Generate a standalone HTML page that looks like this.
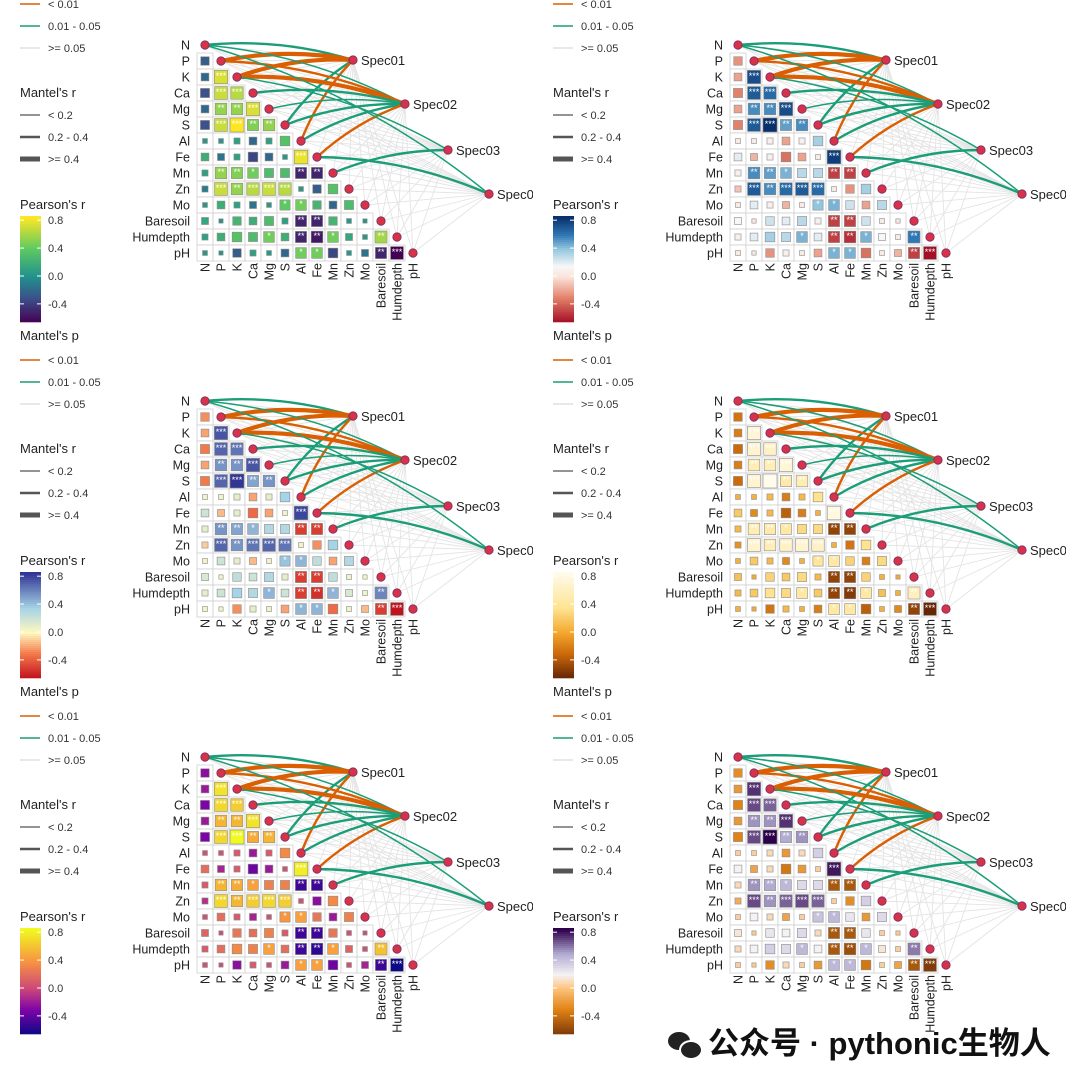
<!DOCTYPE html>
<html><head><meta charset="utf-8">
<style>
html,body{margin:0;padding:0;background:#fff;}
#root{position:relative;width:1080px;height:1080px;overflow:hidden;font-family:"Liberation Sans","Noto Sans CJK SC",sans-serif;}
svg text{font-family:"Liberation Sans","Noto Sans CJK SC",sans-serif;}
#wm{position:absolute;left:668px;top:1018px;font-size:31px;font-weight:bold;color:#111;white-space:nowrap;}
</style></head>
<body>
<div id="root">
<svg id="chart" width="1080" height="1080"></svg>
<div id="wm"><span style="display:inline-block;width:32px;height:26px;vertical-align:-4px;margin-right:8px;position:relative"><span style="position:absolute;left:0;top:0;width:22px;height:18px;border-radius:50%;background:#222"></span><span style="position:absolute;left:11px;top:8px;width:20px;height:16px;border-radius:50%;background:#222;border:2px solid #fff"></span></span>公众号 · pythonic生物人</div>
</div>
<script>
const vars = ["N","P","K","Ca","Mg","S","Al","Fe","Mn","Zn","Mo","Baresoil","Humdepth","pH"];
const rowP = [-0.25];
const rowK = [-0.2,0.75];
const rowCa = [-0.3,0.7,0.65];
const rowMg = [-0.2,0.55,0.55,0.75];
const rowS = [-0.3,0.7,0.85,0.5,0.55];
const rowAl = [0.05,0.05,0.1,-0.2,0.1,0.35];
const rowFe = [0.2,-0.15,0.1,-0.35,-0.2,0.05,0.8];
const rowMn = [0.1,0.55,0.5,0.45,0.3,0.3,-0.5,-0.5];
const rowZn = [-0.1,0.7,0.55,0.65,0.7,0.65,0.05,-0.25,0.35];
const rowMo = [0.05,0.2,0.1,-0.15,0.05,0.4,0.45,0.25,-0.2,0.3];
const rowBaresoil = [0.15,0.03,0.25,0.2,0.3,0.1,-0.5,-0.5,0.25,0.05,0.03];
const rowHumdepth = [0.1,0.2,0.35,0.3,0.45,0.2,-0.5,-0.55,0.45,0.15,0.05,0.6];
const rowPH = [0.05,0.03,-0.25,0.1,0.05,-0.2,0.45,0.45,-0.35,0.05,-0.15,-0.5,-0.7];
const corrRows = [[],rowP,rowK,rowCa,rowMg,rowS,rowAl,rowFe,rowMn,rowZn,rowMo,rowBaresoil,rowHumdepth,rowPH];
const specs = ["Spec01","Spec02","Spec03","Spec04"];
const linkSpec = [0,0,0,0,0,1,1,1,1,1,1,1,1,2,2,3,3];
const linkEnv  = ["N","P","K","S","Al","N","P","K","Ca","Mg","S","Al","Fe","K","Mn","N","Fe"];
const linkP    = ["g","o","o","g","o","g","o","o","g","g","g","g","o","g","g","g","g"];
const linkR    = [2,4,4,2,2,1,2,4,2,1,2,2,2,1,2,1,2];
const legendTicks = [0.8,0.4,0.0,-0.4];
const scales = [
 [[-0.65,"#440154"],[-0.3,"#3b528b"],[0,"#21918c"],[0.4,"#5ec962"],[0.85,"#fde725"]],
 [[-0.65,"#a50f26"],[-0.3,"#e3826a"],[0,"#fbe3da"],[0.15,"#f7f7f7"],[0.4,"#92c5de"],[0.6,"#2f78b5"],[0.85,"#08306b"]],
 [[-0.65,"#c2121e"],[-0.3,"#f4794a"],[0,"#fff8c0"],[0.35,"#a6d3e6"],[0.85,"#313695"]],
 [[-0.65,"#662506"],[-0.3,"#cc6a0a"],[0,"#f3a72d"],[0.35,"#fee391"],[0.85,"#fffbea"]],
 [[-0.65,"#0d0887"],[-0.3,"#7e03a8"],[0,"#cc4778"],[0.4,"#f89540"],[0.85,"#f0f921"]],
 [[-0.65,"#7f3b08"],[-0.3,"#e08214"],[0,"#fdc27a"],[0.2,"#f5f2f4"],[0.5,"#b2abd2"],[0.85,"#2d004b"]]
];
const NS="http://www.w3.org/2000/svg";
function mk(tag,attrs,parent){const e=document.createElementNS(NS,tag);for(const k in attrs)e.setAttribute(k,attrs[k]);if(parent)parent.appendChild(e);return e;}
function hex(h){return [1,3,5].map(i=>parseInt(h.substr(i,2),16));}
function colorFor(sc,v){
 if(v<=sc[0][0])return sc[0][1];
 for(let i=1;i<sc.length;i++){if(v<=sc[i][0]){const a=sc[i-1],b=sc[i];const t=(v-a[0])/(b[0]-a[0]);const ca=hex(a[1]),cb=hex(b[1]);return "rgb("+ca.map((c,k)=>Math.round(c+(cb[k]-c)*t)).join(",")+")";}}
 return sc[sc.length-1][1];
}
const svg=document.getElementById("chart");
const X0=205,Y0=45,S=16;
const specPos=[[353,60],[405,104],[448,150],[489,194]];
const xPos=j=>X0+S*j, yPos=i=>Y0+S*i;
const barTop=216,barBot=322,vTop=0.86,vBot=-0.66;
const barY=v=>barTop+(vTop-v)/(vTop-vBot)*(barBot-barTop);
function stars(v){const a=Math.abs(v);return a>=0.65?"***":a>=0.5?"**":a>=0.4?"*":"";}
for(let p=0;p<6;p++){
 const col=p%2,row=Math.floor(p/2);
 const ox=col*533,oy=row*356;
 const sc=scales[p];
 const ps=mk("svg",{x:ox,y:oy-40,width:533,height:396,overflow:"hidden"},svg);
 
 
 const g=mk("g",{transform:"translate(0,40)"},ps);
 const lg=mk("g",{},g);
 
 
 mk("text",{x:20,y:-16,"font-size":13,fill:"#222"},lg).textContent="Mantel's p";
 const pl=[["#d95f02","< 0.01"],["#1b9e77","0.01 - 0.05"],["#e0e0e0",">= 0.05"]];
 pl.forEach((d,k)=>{const y=4+22*k;
  const it=mk("g",{},lg);
  
  
  mk("line",{x1:20,x2:40,y1:y,y2:y,stroke:d[0],"stroke-width":1.5},it);
  mk("text",{x:48,y:y+4,"font-size":11,fill:"#333"},it).textContent=d[1];});
 mk("text",{x:20,y:97,"font-size":13,fill:"#222"},lg).textContent="Mantel's r";
 [["< 0.2",1.2],["0.2 - 0.4",2.4],[">= 0.4",5]].forEach((d,k)=>{const y=115+22*k;
  const it=mk("g",{},lg);
  
  
  mk("line",{x1:20,x2:40,y1:y,y2:y,stroke:"#555","stroke-width":d[1]},it);
  mk("text",{x:48,y:y+4,"font-size":11,fill:"#333"},it).textContent=d[0];});
 mk("text",{x:20,y:209,"font-size":13,fill:"#222"},lg).textContent="Pearson's r";
 for(let y=barTop;y<barBot;y+=2){const v=vTop-(y-barTop)/(barBot-barTop)*(vTop-vBot);
  mk("rect",{x:20,y:y,width:21,height:2.3,fill:colorFor(sc,v)},lg);}
 legendTicks.forEach(t=>{const y=barY(t);
  mk("line",{x1:20,x2:24,y1:y,y2:y,stroke:"#fff"},lg);mk("line",{x1:37,x2:41,y1:y,y2:y,stroke:"#fff"},lg);
  mk("text",{x:48,y:y+4,"font-size":11,fill:"#333"},lg).textContent=t.toFixed(1);});
 const eg=mk("g",{},g);
 specs.forEach((s,si)=>{vars.forEach((v,vi)=>{
  const l=mk("line",{x1:specPos[si][0],y1:specPos[si][1],x2:xPos(vi),y2:yPos(vi),stroke:"#e4e4e4","stroke-width":0.9},eg);
  
  
 });});
 const mg=mk("g",{},g);
 
 
 for(let i=1;i<vars.length;i++){
  corrRows[i].forEach((v,j)=>{
   const cx=xPos(j),cy=yPos(i);
   const c=mk("g",{},mg);
   
   
   mk("rect",{x:cx-S/2,y:cy-S/2,width:S,height:S,fill:"#fff",stroke:"#d0d0d0","stroke-width":0.8},c);
   const side=2+13*Math.sqrt(Math.abs(v));
   mk("rect",{x:cx-side/2,y:cy-side/2,width:side,height:side,fill:colorFor(sc,v),stroke:"#8a8a8a","stroke-width":0.6},c);
   const st=stars(v);
   if(st){mk("text",{x:cx,y:cy+2,"font-size":9,fill:"#fff","text-anchor":"middle"},c).textContent=st;}
  });
 }
 const sg=mk("g",{},g);
 for(let k=0;k<linkSpec.length;k++){
  const sp=specPos[linkSpec[k]],vi=vars.indexOf(linkEnv[k]);
  const ex=xPos(vi),ey=yPos(vi);
  const mx=(sp[0]+ex)/2,my=(sp[1]+ey)/2;
  const dx=sp[0]-ex,dy=sp[1]-ey;
  const cx=mx+dy*0.1,cy=my-dx*0.1;
  const e=mk("path",{d:`M${ex},${ey} Q${cx},${cy} ${sp[0]},${sp[1]}`,fill:"none",stroke:linkP[k]=="o"?"#d95f02":"#1b9e77","stroke-width":linkR[k]*0.9+0.6},sg);
  
  
 }
 vars.forEach((v,i)=>{
  const d=mk("circle",{cx:xPos(i),cy:yPos(i),r:4.2,fill:"#d6334b",stroke:"#7a2a60","stroke-width":0.8},g);
  
  
  const t=mk("text",{x:190,y:yPos(i)+4.5,"font-size":12.5,fill:"#222","text-anchor":"end"},g);
  
  
  t.textContent=v;
  const t2=mk("text",{x:0,y:0,"font-size":12.5,fill:"#222","text-anchor":"end",transform:`translate(${xPos(i)+4.5},263) rotate(-90)`},g);
  
  
  t2.textContent=v;
 });
 specs.forEach((s,si)=>{
  const d=mk("circle",{cx:specPos[si][0],cy:specPos[si][1],r:4.2,fill:"#d6334b",stroke:"#7a2a60","stroke-width":0.8},g);
  
  
  const t=mk("text",{x:specPos[si][0]+8,y:specPos[si][1]+5,"font-size":13,fill:"#222"},g);
  
  
  t.textContent=s;
 });
}
</script>
</body></html>
